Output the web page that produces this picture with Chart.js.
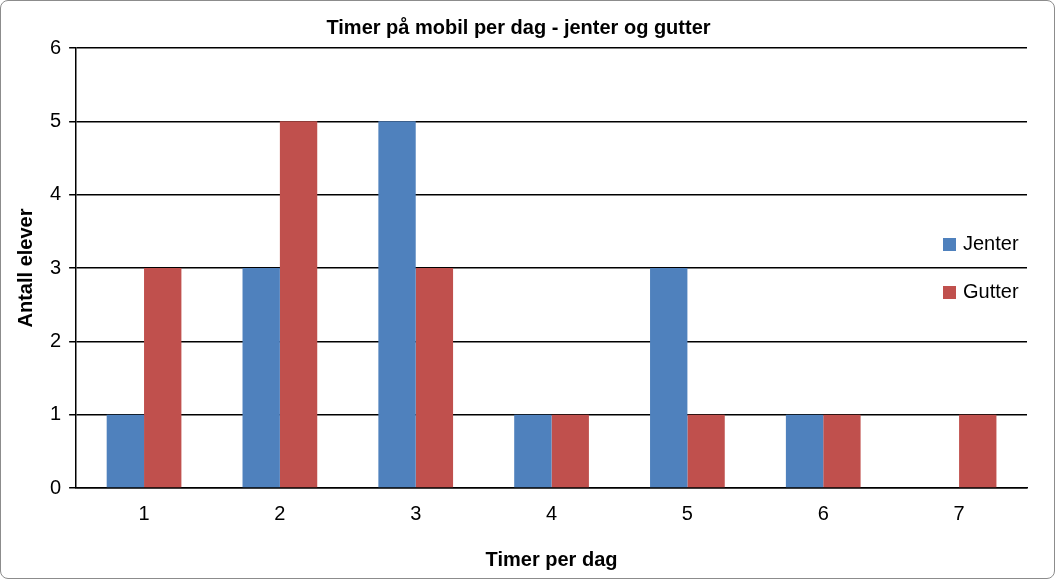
<!DOCTYPE html>
<html>
<head>
<meta charset="utf-8">
<script src="https://cdn.jsdelivr.net/npm/chart.js@4"></script>
<style>
  html, body { margin:0; padding:0; background:#fff; }
  #wrap { position:absolute; left:0; top:0; width:1053px; height:577px; border:1px solid #8c8c8c; border-radius:8px; overflow:hidden; }
</style>
</head>
<body>
<div id="wrap"><canvas id="c" width="1053" height="577"></canvas></div>
<script>
const categories = ['1','2','3','4','5','6','7'];
const jenter = [1, 3, 5, 1, 3, 1, 0];
const gutter = [3, 5, 3, 1, 1, 1, 1];
const FONT = '"Liberation Sans", Arial, sans-serif';

// legend drawn inside the plot, right side
const insideLegend = {
  id: 'insideLegend',
  afterDraw(chart) {
    const ctx = chart.ctx;
    const ys = [243, 291];
    ctx.save();
    ctx.font = '20px ' + FONT;
    ctx.textBaseline = 'middle';
    chart.data.datasets.forEach((ds, i) => {
      ctx.fillStyle = ds.backgroundColor;
      ctx.fillRect(942, ys[i] - 6, 13, 13);
      ctx.fillStyle = '#000';
      ctx.fillText(ds.label, 962, ys[i]);
    });
    ctx.restore();
  }
};

new Chart(document.getElementById('c'), {
  type: 'bar',
  data: {
    labels: categories,
    datasets: [
      { label: 'Jenter', data: jenter, backgroundColor: '#4f81bd' },
      { label: 'Gutter', data: gutter, backgroundColor: '#c0504d' }
    ]
  },
  options: {
    responsive: false,
    animation: false,
    layout: { padding: { left: 9, right: 27, top: 1, bottom: 2 } },
    datasets: { bar: { barPercentage: 1, categoryPercentage: 0.55 } },
    plugins: {
      legend: { display: false },
      tooltip: { enabled: false },
      title: { display: true, text: 'Timer på mobil per dag - jenter og gutter', color: '#000',
               font: { family: FONT, size: 20, weight: 'bold' }, padding: { top: 14, bottom: 8 } }
    },
    scales: {
      x: {
        grid: { display: false, drawTicks: false },
        border: { color: '#000', width: 1.5 },
        ticks: { color: '#000', font: { family: FONT, size: 20 }, padding: 14 },
        title: { display: true, text: 'Timer per dag', color: '#000', font: { family: FONT, size: 20, weight: 'bold' }, padding: { top: 8 } }
      },
      y: {
        min: 0, max: 6,
        grid: { color: '#000', lineWidth: 1.5, tickLength: 7 },
        border: { color: '#000', width: 1.5 },
        ticks: { stepSize: 1, color: '#000', font: { family: FONT, size: 20 }, padding: 8 },
        title: { display: true, text: 'Antall elever', color: '#000', font: { family: FONT, size: 20, weight: 'bold' }, padding: { bottom: 4 } }
      }
    }
  },
  plugins: [insideLegend]
});
</script>
</body>
</html>
